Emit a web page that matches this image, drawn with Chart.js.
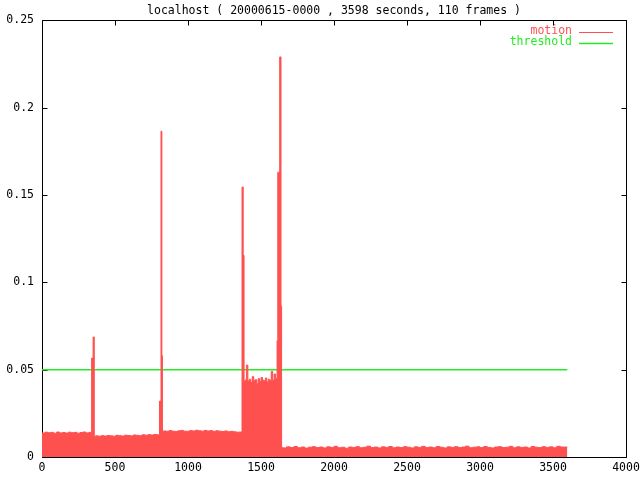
<!DOCTYPE html>
<html>
<head>
<meta charset="utf-8">
<script src="https://cdn.jsdelivr.net/npm/chart.js@4/dist/chart.umd.min.js"></script>
<style>
  body { margin: 0; background: #fff; }
</style>
</head>
<body>
<canvas id="myChart" width="640" height="480"></canvas>
<script>
// sample times (seconds) and motion level at each sample
var seconds = [
  0, 20, 40, 60, 80, 100, 120, 140, 160, 180, 200, 220, 240, 260, 280, 300, 320, 340,
  350, 358,
  366, 385, 405, 425, 445, 465, 485, 505, 525, 545, 565, 585, 605, 625, 645, 665, 685, 705, 725, 745, 765, 785, 805,
  815, 821, 825,
  830, 850, 870, 890, 910, 930, 950, 970, 990, 1010, 1030, 1050, 1070, 1090, 1110, 1130, 1150, 1170, 1190, 1210,
  1230, 1250, 1270, 1290, 1310, 1330, 1350, 1370,
  1378, 1384,
  1390, 1400, 1410, 1420, 1430, 1440, 1450, 1460, 1470, 1480, 1490, 1500, 1510, 1520, 1530, 1540, 1550, 1560,
  1570, 1580, 1590, 1600, 1610,
  1615, 1628, 1637, 1641,
  1650, 1675, 1700, 1725, 1750, 1775, 1800, 1825, 1850, 1875, 1900, 1925, 1950, 1975, 2000, 2025, 2050, 2075,
  2100, 2125, 2150, 2175, 2200, 2225, 2250, 2275, 2300, 2325, 2350, 2375, 2400, 2425, 2450, 2475, 2500, 2525,
  2550, 2575, 2600, 2625, 2650, 2675, 2700, 2725, 2750, 2775, 2800, 2825, 2850, 2875, 2900, 2925, 2950, 2975,
  3000, 3025, 3050, 3075, 3100, 3125, 3150, 3175, 3200, 3225, 3250, 3275, 3300, 3325, 3350, 3375, 3400, 3425,
  3450, 3475, 3500, 3525, 3550, 3575, 3598
]
var motion = [
  0.0140, 0.0137, 0.0142, 0.0139, 0.0141, 0.0136, 0.0143, 0.0138, 0.0140, 0.0137, 0.0142, 0.0139, 0.0141, 0.0136, 0.0140, 0.0143, 0.0138, 0.0141,
  0.0566, 0.0687,
  0.0118, 0.0121, 0.0119, 0.0122, 0.0120, 0.0123, 0.0121, 0.0119, 0.0124, 0.0122, 0.0120, 0.0125, 0.0123, 0.0121, 0.0126, 0.0124, 0.0122, 0.0127, 0.0125, 0.0128, 0.0126, 0.0129, 0.0127,
  0.0320, 0.1865, 0.0580,
  0.0145, 0.0149, 0.0147, 0.0151, 0.0148, 0.0146, 0.0150, 0.0152, 0.0148, 0.0147, 0.0151, 0.0149, 0.0153, 0.0150, 0.0148, 0.0152, 0.0149, 0.0151, 0.0147, 0.0150,
  0.0148, 0.0146, 0.0149, 0.0145, 0.0147, 0.0144, 0.0142, 0.0143,
  0.1545, 0.1154,
  0.0430, 0.0440, 0.0526, 0.0435, 0.0445, 0.0428, 0.0460, 0.0438, 0.0442, 0.0420, 0.0448, 0.0432, 0.0455, 0.0440, 0.0436, 0.0452, 0.0430, 0.0445,
  0.0438, 0.0490, 0.0440, 0.0475, 0.0448,
  0.0665, 0.1630, 0.2290, 0.0865,
  0.0055, 0.0052, 0.0058, 0.0054, 0.0060, 0.0053, 0.0057, 0.0051, 0.0056, 0.0059, 0.0054, 0.0057, 0.0052, 0.0058, 0.0055, 0.0061, 0.0053, 0.0056,
  0.0050, 0.0057, 0.0055, 0.0059, 0.0053, 0.0056, 0.0062, 0.0054, 0.0057, 0.0052, 0.0058, 0.0055, 0.0060, 0.0053, 0.0057, 0.0054, 0.0059, 0.0056,
  0.0052, 0.0058, 0.0055, 0.0061, 0.0054, 0.0057, 0.0053, 0.0060, 0.0056, 0.0052, 0.0058, 0.0055, 0.0059, 0.0054, 0.0057, 0.0062, 0.0053, 0.0056,
  0.0058, 0.0054, 0.0060, 0.0055, 0.0052, 0.0057, 0.0059, 0.0054, 0.0056, 0.0061, 0.0053, 0.0058, 0.0055, 0.0057, 0.0052, 0.0060, 0.0056, 0.0054,
  0.0059, 0.0055, 0.0058, 0.0053, 0.0061, 0.0057, 0.0057
]
var thresholdSeconds = [0, 3598]
var thresholdValues = [0.05, 0.05]

var xTickLabels = ['0', '500', '1000', '1500', '2000', '2500', '3000', '3500', '4000']
var yTickLabels = ['0', '0.05', '0.1', '0.15', '0.2', '0.25']
var titleText = 'localhost ( 20000615-0000 , 3598 seconds, 110 frames )'

var red = '#ff5050', green = '#22ee22'
var mono = "'DejaVu Sans Mono', monospace"

function toPoints (xs, ys) {
  return xs.map(function (x, i) { return { x: x, y: ys[i] } })
}

// gnuplot style box with ticks pointing inwards on every side
var framePlugin = {
  id: 'frame',
  beforeDatasetsDraw: function (chart) {
    var ctx = chart.ctx, a = chart.chartArea
    var xs = chart.scales.x, ys = chart.scales.y
    var left = Math.round(a.left) + 0.5, right = Math.round(a.right) + 0.5
    var top = Math.round(a.top) + 0.5, bottom = Math.round(a.bottom) + 0.5
    ctx.save()
    ctx.strokeStyle = '#000'
    ctx.lineWidth = 1
    ctx.beginPath()
    xs.ticks.forEach(function (t) {
      var px = Math.round(xs.getPixelForValue(t.value)) + 0.5
      ctx.moveTo(px, bottom); ctx.lineTo(px, bottom - 5)
      ctx.moveTo(px, top); ctx.lineTo(px, top + 5)
    })
    ys.ticks.forEach(function (t) {
      var py = Math.round(ys.getPixelForValue(t.value)) + 0.5
      ctx.moveTo(left, py); ctx.lineTo(left + 5, py)
      ctx.moveTo(right, py); ctx.lineTo(right - 5, py)
    })
    ctx.rect(left, top, right - left, bottom - top)
    ctx.stroke()
    ctx.restore()
  }
}

// key in the top right corner: text first, then line sample
var keyPlugin = {
  id: 'key',
  afterDraw: function (chart) {
    var ctx = chart.ctx
    ctx.save()
    ctx.font = '11.5px ' + mono
    ctx.textAlign = 'right'
    ctx.textBaseline = 'middle'
    chart.data.datasets.forEach(function (ds, i) {
      var y = 31.5 + i * 11
      ctx.fillStyle = ds.borderColor
      ctx.fillText(ds.label, 572, y)
      ctx.strokeStyle = ds.borderColor
      ctx.lineWidth = ds.borderWidth
      ctx.beginPath()
      ctx.moveTo(579, Math.round(y) + 0.5)
      ctx.lineTo(613, Math.round(y) + 0.5)
      ctx.stroke()
    })
    ctx.restore()
  }
}

let ctx = document.getElementById('myChart').getContext('2d')
let myChart = new Chart(ctx, {
  type: 'line',
  data: {
    datasets: [{
      label: 'motion',
      data: toPoints(seconds, motion),
      borderColor: red,
      backgroundColor: red,
      borderWidth: 1,
      stepped: 'after',
      fill: 'origin',
      pointRadius: 0
    },
    {
      label: 'threshold',
      data: toPoints(thresholdSeconds, thresholdValues),
      borderColor: green,
      borderWidth: 1.5,
      fill: false,
      pointRadius: 0
    }]
  },
  options: {
    responsive: false,
    animation: false,
    devicePixelRatio: 1,
    layout: { padding: { left: 0, right: 14, top: 0, bottom: 0 } },
    plugins: {
      legend: { display: false },
      tooltip: { enabled: false },
      title: {
        display: true,
        fullSize: false,
        text: titleText,
        color: '#000',
        font: { family: mono, size: 11.5, weight: 'normal', lineHeight: 1.2 },
        padding: { top: 4, bottom: 2.45 }
      }
    },
    scales: {
      x: {
        type: 'linear',
        min: 0,
        max: 4000,
        border: { display: false },
        grid: { drawOnChartArea: false, drawTicks: false },
        ticks: {
          stepSize: 500,
          autoSkip: false,
          maxRotation: 0,
          padding: 4,
          color: '#000',
          font: { family: mono, size: 11.5 },
          callback: function (v, i) { return xTickLabels[i] }
        },
        afterFit: function (s) { s.height = 23; s.paddingLeft = 0; s.paddingRight = 0 }
      },
      y: {
        min: 0,
        max: 0.25,
        border: { display: false },
        grid: { drawOnChartArea: false, drawTicks: false },
        ticks: {
          stepSize: 0.05,
          padding: 8,
          color: '#000',
          font: { family: mono, size: 11.5 },
          callback: function (v, i) { return yTickLabels[i] }
        },
        afterFit: function (s) { s.width = 42; s.paddingTop = 0; s.paddingBottom = 0 }
      }
    }
  },
  plugins: [framePlugin, keyPlugin]
})
</script>
</body>
</html>
